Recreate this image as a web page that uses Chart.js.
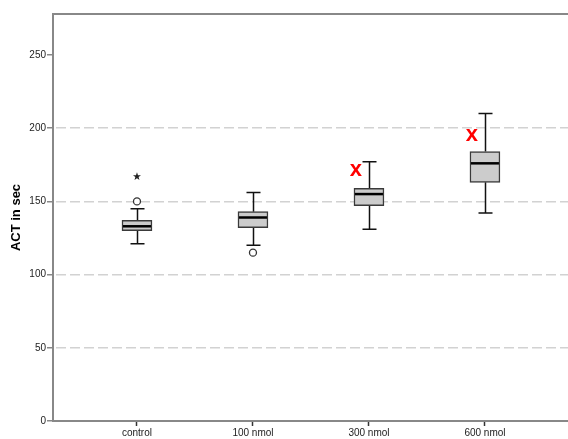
<!DOCTYPE html>
<html>
<head>
<meta charset="utf-8">
<script src="https://cdn.jsdelivr.net/npm/chart.js@4/dist/chart.umd.min.js"></script>
<style>
  html, body { margin: 0; padding: 0; background: #fff; overflow: hidden; }
  #wrap { width: 568px; height: 439px; }
</style>
</head>
<body>
<div id="wrap"><canvas id="actChart"></canvas></div>
<script>
// groups and box statistics (ACT in sec)
var groups      = ['control', '100 nmol', '300 nmol', '600 nmol'];
var whiskerLow  = [121, 120, 131, 142];
var q1          = [130, 132, 147, 163];
var median      = [133, 139, 155, 176];
var q3          = [137, 143, 159, 184];
var whiskerHigh = [145, 156, 177, 210];

// outliers (circles) and extremes (stars)
var outlierGroup = [0, 1];
var outlierValue = [150, 115];
var extremeGroup = [0];
var extremeValue = [167];

// red x marks next to the boxes
var markGroup = [2, 3];
var markValue = [171, 195];

var yTicks = [0, 50, 100, 150, 200, 250];

var boxData = groups.map(function (g, i) {
    return {x: i + 1, y: [q1[i], q3[i]]};
});

<!-----------whiskers, medians, outliers--------------->
var boxExtras = {
    id: 'boxExtras',
    beforeDatasetsDraw: function (chart) {
        var ctx = chart.ctx, xs = chart.scales.x, ys = chart.scales.y;
        ctx.save();
        ctx.strokeStyle = '#111';
        ctx.lineWidth = 1.5;
        for (var i = 0; i < groups.length; i++) {
            var cx = Math.round(xs.getPixelForValue(i + 1)) + 0.5;
            var yLo = ys.getPixelForValue(whiskerLow[i]);
            var yHi = ys.getPixelForValue(whiskerHigh[i]);
            ctx.beginPath();
            ctx.moveTo(cx, yLo); ctx.lineTo(cx, ys.getPixelForValue(q1[i]));
            ctx.moveTo(cx, yHi); ctx.lineTo(cx, ys.getPixelForValue(q3[i]));
            ctx.moveTo(cx - 7, yLo); ctx.lineTo(cx + 7, yLo);
            ctx.moveTo(cx - 7, yHi); ctx.lineTo(cx + 7, yHi);
            ctx.stroke();
        }
        ctx.restore();
    },
    afterDatasetsDraw: function (chart) {
        var ctx = chart.ctx, xs = chart.scales.x, ys = chart.scales.y, area = chart.chartArea;
        ctx.save();

        // top frame line
        ctx.strokeStyle = '#888';
        ctx.lineWidth = 2;
        ctx.beginPath();
        ctx.moveTo(area.left, area.top);
        ctx.lineTo(area.right, area.top);
        ctx.stroke();

        // medians
        ctx.strokeStyle = '#000';
        ctx.lineWidth = 2.5;
        for (var i = 0; i < groups.length; i++) {
            var cx = xs.getPixelForValue(i + 1);
            var my = ys.getPixelForValue(median[i]);
            ctx.beginPath();
            ctx.moveTo(cx - 14, my); ctx.lineTo(cx + 14, my);
            ctx.stroke();
        }

        // outliers
        ctx.strokeStyle = '#333';
        ctx.fillStyle = '#fff';
        ctx.lineWidth = 1.3;
        for (var j = 0; j < outlierGroup.length; j++) {
            ctx.beginPath();
            ctx.arc(xs.getPixelForValue(outlierGroup[j] + 1), ys.getPixelForValue(outlierValue[j]), 3.5, 0, Math.PI * 2);
            ctx.fill();
            ctx.stroke();
        }

        // extremes
        ctx.fillStyle = '#222';
        for (var k = 0; k < extremeGroup.length; k++) {
            var sx = xs.getPixelForValue(extremeGroup[k] + 1);
            var sy = ys.getPixelForValue(extremeValue[k]);
            ctx.beginPath();
            for (var p = 0; p < 10; p++) {
                var r = p % 2 ? 1.7 : 4.2;
                var a = -Math.PI / 2 + p * Math.PI / 5;
                ctx.lineTo(sx + r * Math.cos(a), sy + r * Math.sin(a));
            }
            ctx.closePath();
            ctx.fill();
        }

        // red x marks
        ctx.fillStyle = '#ff0000';
        ctx.font = 'bold 22px Arial, "Liberation Sans", sans-serif';
        ctx.textAlign = 'center';
        ctx.textBaseline = 'alphabetic';
        for (var m = 0; m < markGroup.length; m++) {
            ctx.fillText('x', xs.getPixelForValue(markGroup[m] + 1) - 13, ys.getPixelForValue(markValue[m]) + 5.7);
        }
        ctx.restore();
    }
};
<!-----------end of extras--------------->

new Chart(document.getElementById('actChart'), {
    type: 'bar',
    data: {
        datasets: [{
            data: boxData,
            backgroundColor: '#cccccc',
            borderColor: '#3a3a3a',
            borderWidth: 1.5,
            borderSkipped: false,
            barThickness: 30
        }]
    },
    options: {
        responsive: true,
        maintainAspectRatio: false,
        animation: false,
        events: [],
        layout: {padding: {top: 14, left: 0, right: 0, bottom: 0}},
        plugins: {legend: {display: false}, tooltip: {enabled: false}},
        scales: {
            x: {
                type: 'linear',
                offset: false,
                min: 0.276,
                max: 4.716,
                afterBuildTicks: function (scale) {
                    scale.ticks = groups.map(function (g, i) { return {value: i + 1}; });
                },
                afterFit: function (scale) { scale.height = 18; },
                ticks: {
                    autoSkip: false,
                    maxRotation: 0,
                    padding: 1,
                    color: '#222',
                    font: {family: 'Arial, "Liberation Sans", sans-serif', size: 10},
                    callback: function (v) { return groups[v - 1]; }
                },
                grid: {offset: false, drawOnChartArea: false, tickLength: 5, tickColor: '#333', tickWidth: 1.5},
                border: {color: '#888', width: 2}
            },
            y: {
                min: 0,
                max: 278,
                afterBuildTicks: function (scale) {
                    scale.ticks = yTicks.map(function (v) { return {value: v}; });
                },
                afterFit: function (scale) { scale.width = 53; },
                ticks: {
                    padding: 1,
                    color: '#222',
                    font: {family: 'Arial, "Liberation Sans", sans-serif', size: 10}
                },
                title: {
                    display: true,
                    text: 'ACT in sec',
                    color: '#000',
                    padding: {top: 9, bottom: 0},
                    font: {family: 'Arial, "Liberation Sans", sans-serif', size: 13, weight: 'bold'}
                },
                grid: {
                    lineWidth: 1.5,
                    color: function (c) {
                        var v = c.tick ? c.tick.value : 0;
                        return (v >= 50 && v <= 200) ? '#d2d2d2' : 'rgba(0,0,0,0)';
                    },
                    tickLength: 6,
                    tickColor: '#888',
                    tickWidth: 1.5
                },
                border: {color: '#888', width: 2, dash: [10, 4], dashOffset: -2}
            }
        }
    },
    plugins: [boxExtras]
});
</script>
</body>
</html>
